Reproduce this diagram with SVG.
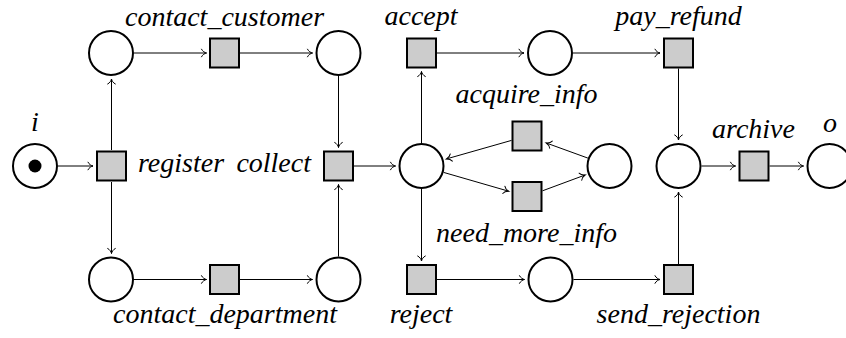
<svg xmlns="http://www.w3.org/2000/svg" width="846" height="338" viewBox="0 0 846 338">
  <defs>
    <!-- open curved arrow tip -->
    <marker id="tip" markerUnits="userSpaceOnUse" viewBox="-7 -5 8 10" markerWidth="8" markerHeight="10" refX="0" refY="0" orient="auto" overflow="visible">
      <path d="M-5,-3.8 C-4,-1.5 -1.5,-0.4 0,0 C-1.5,0.4 -4,1.5 -5,3.8" fill="none" stroke="#000" stroke-width="1" stroke-linecap="round"/>
    </marker>
  </defs>
  <style>
    .place { fill: #fff; stroke: #000; stroke-width: 2; }
    .trans { fill: #cccccc; stroke: #000; stroke-width: 2; }
    .token { fill: #000; }
    .arc { fill: none; stroke: #000; stroke-width: 1; marker-end: url(#tip); }
    .lbl { font-family: "Liberation Serif", "Times New Roman", serif; font-style: italic; font-size: 28px; fill: #000; }
    .mid { text-anchor: middle; }
    .end { text-anchor: end; }
  </style>

  <rect width="846" height="338" fill="#fff"/>

  <!-- arcs -->
  <g id="connectors">
    <path class="arc" d="M58,166 H93"/>
    <path class="arc" d="M111.5,150 V79"/>
    <path class="arc" d="M111.5,182 V253.5"/>
    <path class="arc" d="M134,53 H206.5"/>
    <path class="arc" d="M240,53 H312.5"/>
    <path class="arc" d="M338.5,76 V147.5"/>
    <path class="arc" d="M134,279.5 H206.5"/>
    <path class="arc" d="M240,279.5 H312.5"/>
    <path class="arc" d="M338.5,256.5 V184.5"/>
    <path class="arc" d="M354,166 H395.5"/>
    <path class="arc" d="M421.5,143 V71.5"/>
    <path class="arc" d="M421.5,189 V261"/>
    <path class="arc" d="M443.6,172.4 L508.6,191.2"/>
    <path class="arc" d="M542.5,190.8 L585.1,175"/>
    <path class="arc" d="M587.9,158.1 L546.3,143"/>
    <path class="arc" d="M511.5,140.4 L446.5,158.9"/>
    <path class="arc" d="M437,53 H524"/>
    <path class="arc" d="M573,53 H660"/>
    <path class="arc" d="M678.5,68.5 V140"/>
    <path class="arc" d="M437,279.5 H524.5"/>
    <path class="arc" d="M573.5,279.5 H660"/>
    <path class="arc" d="M678.5,264 V192"/>
    <path class="arc" d="M701.5,166 H735.5"/>
    <path class="arc" d="M769.5,166 H803.5"/>
  </g>

  <!-- places -->
  <g id="p_i">
    <circle class="place" cx="35" cy="166" r="22"/>
    <circle class="token" cx="35" cy="166" r="6.5"/>
    <text class="lbl mid" x="35" y="131">i</text>
  </g>
  <g id="p_c1"><circle class="place" cx="111" cy="53" r="22"/></g>
  <g id="p_c2"><circle class="place" cx="338.5" cy="53" r="22"/></g>
  <g id="p_c3"><circle class="place" cx="111" cy="279.5" r="22"/></g>
  <g id="p_c4"><circle class="place" cx="338.5" cy="279.5" r="22"/></g>
  <g id="p_c5"><circle class="place" cx="421.5" cy="166" r="22"/></g>
  <g id="p_c6"><circle class="place" cx="609.5" cy="166" r="22"/></g>
  <g id="p_c7"><circle class="place" cx="550" cy="53" r="22"/></g>
  <g id="p_c8"><circle class="place" cx="550.5" cy="279.5" r="22"/></g>
  <g id="p_c9"><circle class="place" cx="678.5" cy="166" r="22"/></g>
  <g id="p_o">
    <circle class="place" cx="829.5" cy="166" r="22"/>
    <text class="lbl mid" x="830" y="131.5">o</text>
  </g>

  <!-- transitions -->
  <g id="t_register">
    <rect class="trans" x="97" y="151.5" width="29" height="29"/>
    <text class="lbl" x="138" y="172">register</text>
  </g>
  <g id="t_contact_customer">
    <rect class="trans" x="210" y="38.5" width="29" height="29"/>
    <text class="lbl mid" x="224.5" y="26">contact_customer</text>
  </g>
  <g id="t_contact_department">
    <rect class="trans" x="210" y="265" width="29" height="29"/>
    <text class="lbl mid" x="225" y="323">contact_department</text>
  </g>
  <g id="t_collect">
    <rect class="trans" x="324" y="151.5" width="29" height="29"/>
    <text class="lbl end" x="311" y="172">collect</text>
  </g>
  <g id="t_accept">
    <rect class="trans" x="407" y="38.5" width="29" height="29"/>
    <text class="lbl mid" x="421" y="25">accept</text>
  </g>
  <g id="t_reject">
    <rect class="trans" x="407" y="265" width="29" height="29"/>
    <text class="lbl mid" x="421" y="323">reject</text>
  </g>
  <g id="t_acquire_info">
    <rect class="trans" x="512.5" y="121.5" width="29" height="29"/>
    <text class="lbl mid" x="526.5" y="103">acquire_info</text>
  </g>
  <g id="t_need_more_info">
    <rect class="trans" x="512.5" y="182" width="29" height="29"/>
    <text class="lbl mid" x="526.5" y="241.5">need_more_info</text>
  </g>
  <g id="t_pay_refund">
    <rect class="trans" x="664" y="38.5" width="29" height="29"/>
    <text class="lbl mid" x="678.5" y="25">pay_refund</text>
  </g>
  <g id="t_send_rejection">
    <rect class="trans" x="664" y="265" width="29" height="29"/>
    <text class="lbl mid" x="678.5" y="323">send_rejection</text>
  </g>
  <g id="t_archive">
    <rect class="trans" x="739.5" y="151.5" width="29" height="29"/>
    <text class="lbl mid" x="753.5" y="138">archive</text>
  </g>
</svg>
